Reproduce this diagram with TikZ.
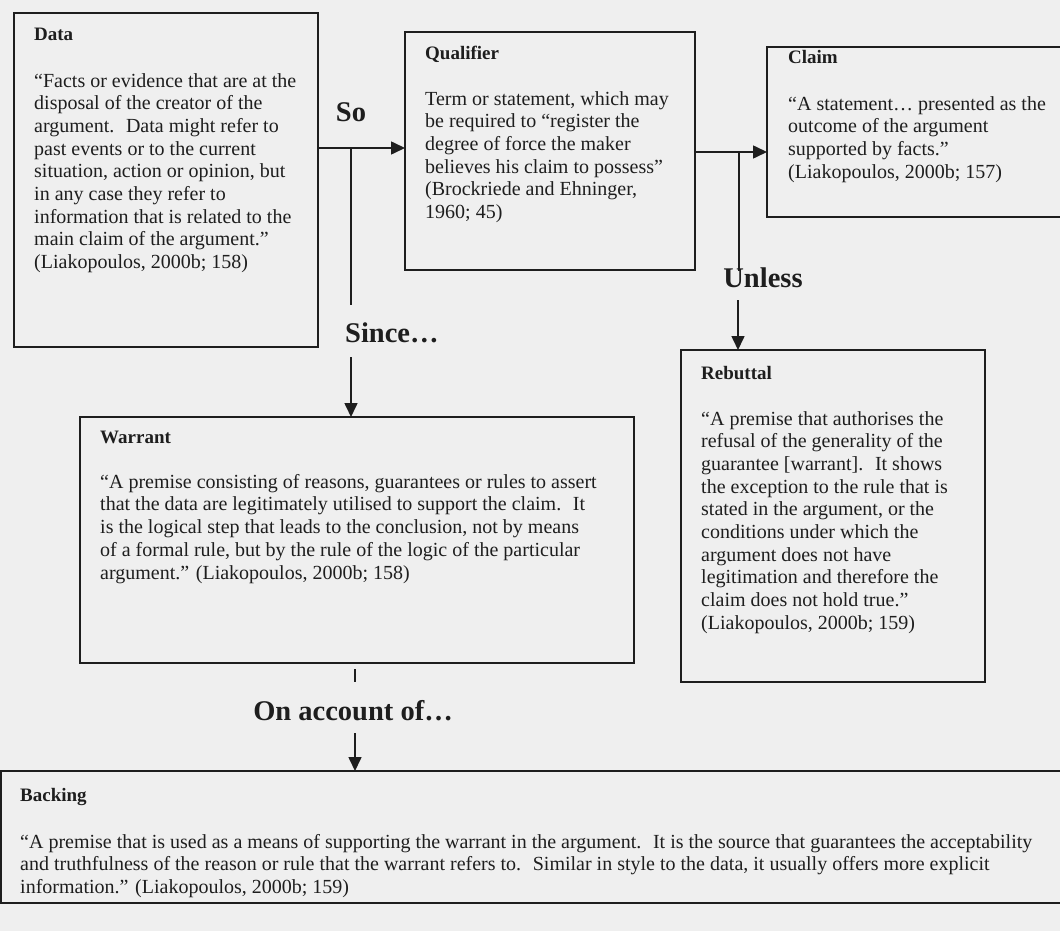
\documentclass[tikz,border=0pt]{standalone}
\usepackage{fontspec}
\setmainfont{Liberation Serif}
\usetikzlibrary{arrows.meta}
\definecolor{bg}{RGB}{239,239,239}
\definecolor{ink}{RGB}{30,30,30}
\begin{document}
\begin{tikzpicture}[x=1pt,y=-1pt,
  box/.style={draw=ink,line width=1.5pt,anchor=north west,inner sep=0pt,outer sep=0pt},
  txt/.style={anchor=north west,align=left,inner sep=0pt,text=ink,font=\fontsize{20}{22.7}\selectfont},
  ttl/.style={anchor=base west,inner sep=0pt,text=ink,font=\fontsize{19}{22}\selectfont\bfseries},
  lbl/.style={anchor=base,inner sep=0pt,text=ink,font=\fontsize{28.5}{32}\selectfont\bfseries},
  con/.style={line width=1.6pt,draw=ink},
  arr/.style={con,-{Triangle[length=14pt,width=13pt]}}]
\fill[bg] (0,0) rectangle (1060,931);
\useasboundingbox (0,0) rectangle (1060,931);

% boxes
\node[box,minimum width=304pt,minimum height=334pt] (data) at (14,13) {};
\node[box,minimum width=290pt,minimum height=238pt] (qual) at (405,32) {};
\node[box,minimum width=310pt,minimum height=170pt] (claim) at (767,47) {};
\node[box,minimum width=304pt,minimum height=332pt] (rebuttal) at (681,350) {};
\node[box,minimum width=554pt,minimum height=246pt] (warrant) at (80,417) {};
\node[box,minimum width=1070pt,minimum height=132pt] (backing) at (1,771) {};

% titles
\node[ttl] (tdata) at (34,41) {Data};
\node[ttl] (tqual) at (425,60) {Qualifier};
\node[ttl] (tclaim) at (788,64) {Claim};
\node[ttl] (treb) at (701,379) {Rebuttal};
\node[ttl] (twar) at (100,443) {Warrant};
\node[ttl] (tback) at (20,801) {Backing};

% bodies
\node[txt] (bdata) at (34,73) {“Facts or evidence that are at the\\
disposal of the creator of the\\
argument.~ Data might refer to\\
past events or to the current\\
situation, action or opinion, but\\
in any case they refer to\\
information that is related to the\\
main claim of the argument.”\\
(Liakopoulos, 2000b; 158)};

\node[txt] (bqual) at (425,91) {Term or statement, which may\\
be required to “register the\\
degree of force the maker\\
believes his claim to possess”\\
(Brockriede and Ehninger,\\
1960; 45)};

\node[txt] (bclaim) at (788,96) {“A statement… presented as the\\
outcome of the argument\\
supported by facts.”\\
(Liakopoulos, 2000b; 157)};

\node[txt] (breb) at (701,411) {“A premise that authorises the\\
refusal of the generality of the\\
guarantee [warrant].~ It shows\\
the exception to the rule that is\\
stated in the argument, or the\\
conditions under which the\\
argument does not have\\
legitimation and therefore the\\
claim does not hold true.”\\
(Liakopoulos, 2000b; 159)};

\node[txt] (bwar) at (100,474) {“A premise consisting of reasons, guarantees or rules to assert\\
that the data are legitimately utilised to support the claim.~ It\\
is the logical step that leads to the conclusion, not by means\\
of a formal rule, but by the rule of the logic of the particular\\
argument.” (Liakopoulos, 2000b; 158)};

\node[txt] (bback) at (20,834) {“A premise that is used as a means of supporting the warrant in the argument.~ It is the source that guarantees the acceptability\\
and truthfulness of the reason or rule that the warrant refers to.~ Similar in style to the data, it usually offers more explicit\\
information.” (Liakopoulos, 2000b; 159)};

% labels
\node[lbl] (lso) at (351,122) {So};
\node[lbl,anchor=base west] (lsince) at (345,342) {Since…};
\node[lbl] (lunless) at (763,287) {Unless};
\node[lbl] (lacc) at (353,720) {On account of…};

% connectors
\coordinate (soj) at (351,148);
\draw[arr] (data.east |- soj) -- (qual.west |- soj);
\coordinate (sinceEnd) at (351,305);
\draw[con] (soj) -- (sinceEnd);
\coordinate (sinceStart) at (351,357);
\draw[arr] (sinceStart) -- (sinceStart |- warrant.north);

\coordinate (unj) at (739,152);
\draw[arr] (qual.east |- unj) -- (claim.west |- unj);
\coordinate (unEnd) at (739,271);
\draw[con] (unj) -- (unEnd);
\coordinate (unStart) at (738,300);
\draw[arr] (unStart) -- (unStart |- rebuttal.north);

\coordinate (tickA) at (355,669);
\coordinate (tickB) at (355,682);
\draw[con] (tickA) -- (tickB);
\coordinate (accStart) at (355,733);
\draw[arr] (accStart) -- (accStart |- backing.north);
\end{tikzpicture}
\end{document}
